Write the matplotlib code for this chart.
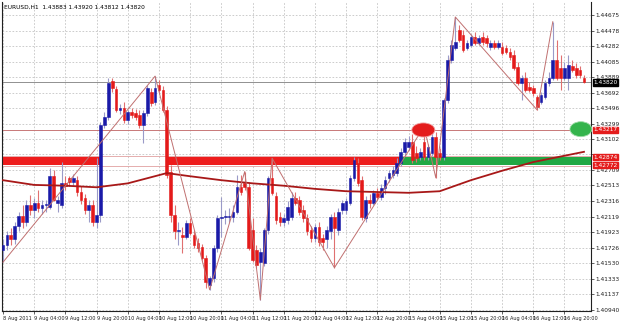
import matplotlib
matplotlib.use('Agg')
import matplotlib.pyplot as plt
import matplotlib.transforms as mtransforms
from matplotlib.patches import Ellipse, Rectangle

# EURUSD H1 candles, one value per bar
opens = [1.4170, 1.4176, 1.4188, 1.4183, 1.4200, 1.4212, 1.4205, 1.4227, 1.4220, 1.4229,
         1.4223, 1.4226, 1.4224, 1.4263, 1.4229, 1.4227, 1.4254, 1.4261, 1.4256, 1.4258,
         1.4243, 1.4236, 1.4220, 1.4227, 1.4205, 1.4214, 1.4328, 1.4338, 1.4384, 1.4374,
         1.4347, 1.4350, 1.4334, 1.4345, 1.4343, 1.4341, 1.4328, 1.4343, 1.4370, 1.4357,
         1.4379, 1.4372, 1.4347, 1.4269, 1.4214, 1.4193, 1.4189, 1.4186, 1.4204, 1.4189,
         1.4178, 1.4173, 1.4159, 1.4125, 1.4134, 1.4172, 1.4210, 1.4211, 1.4211, 1.4211,
         1.4218, 1.4249, 1.4254, 1.4249, 1.4195, 1.4170, 1.4154, 1.4153, 1.4195, 1.4261,
         1.4238, 1.4211, 1.4205, 1.4207, 1.4211, 1.4236, 1.4233, 1.4220, 1.4210, 1.4195,
         1.4185, 1.4199, 1.4185, 1.4183, 1.4193, 1.4211, 1.4195, 1.4220, 1.4220, 1.4229,
         1.4261, 1.4280, 1.4258, 1.4210, 1.4233, 1.4229, 1.4242, 1.4237, 1.4248, 1.4261,
         1.4265, 1.4267, 1.4280, 1.4294, 1.4300, 1.4306, 1.4292, 1.4287, 1.4306, 1.4287,
         1.4292, 1.4313, 1.4292, 1.4287, 1.4360, 1.4410, 1.4426, 1.4448, 1.4442, 1.4426,
         1.4429, 1.4440, 1.4432, 1.4440, 1.4438, 1.4427, 1.4432, 1.4427, 1.4427, 1.4426,
         1.4421, 1.4417, 1.4401, 1.4381, 1.4388, 1.4376, 1.4375, 1.4364, 1.4357, 1.4364,
         1.4381, 1.4388, 1.4410, 1.4400, 1.4388, 1.4388, 1.4403, 1.4400, 1.4398, 1.4388]
highs = [1.4183, 1.4193, 1.4198, 1.4205, 1.4218, 1.4227, 1.4233, 1.4239, 1.4236, 1.4246,
         1.4233, 1.4233, 1.4274, 1.4271, 1.4238, 1.4281, 1.4263, 1.4263, 1.4266, 1.4263,
         1.4251, 1.4241, 1.4233, 1.4233, 1.4286, 1.4332, 1.4345, 1.4388, 1.4387, 1.4377,
         1.4355, 1.4357, 1.4347, 1.4350, 1.4348, 1.4347, 1.4347, 1.4379, 1.4375, 1.4390,
         1.4385, 1.4377, 1.4352, 1.4277, 1.4227, 1.4205, 1.4199, 1.4207, 1.4210, 1.4195,
         1.4185, 1.4177, 1.4163, 1.4136, 1.4176, 1.4214, 1.4237, 1.4220, 1.4223, 1.4226,
         1.4265, 1.4265, 1.4269, 1.4254, 1.4210, 1.4176, 1.4172, 1.4198, 1.4263, 1.4286,
         1.4243, 1.4218, 1.4215, 1.4231, 1.4243, 1.4243, 1.4238, 1.4227, 1.4215, 1.4200,
         1.4202, 1.4205, 1.4190, 1.4200, 1.4215, 1.4218, 1.4223, 1.4233, 1.4236, 1.4265,
         1.4287, 1.4286, 1.4263, 1.4238, 1.4241, 1.4246, 1.4248, 1.4253, 1.4263, 1.4271,
         1.4276, 1.4286, 1.4299, 1.4312, 1.4314, 1.4316, 1.4301, 1.4299, 1.4326, 1.4304,
         1.4319, 1.4319, 1.4299, 1.4362, 1.4417, 1.4436, 1.4465, 1.4455, 1.4448, 1.4436,
         1.4443, 1.4446, 1.4442, 1.4446, 1.4442, 1.4436, 1.4436, 1.4436, 1.4433, 1.4429,
         1.4426, 1.4423, 1.4408, 1.4391, 1.4395, 1.4382, 1.4379, 1.4366, 1.4370, 1.4385,
         1.4395, 1.4459, 1.4436, 1.4417, 1.4408, 1.4417, 1.4410, 1.4407, 1.4403, 1.4392]
lows = [1.4154, 1.4170, 1.4176, 1.4177, 1.4193, 1.4198, 1.4200, 1.4214, 1.4210, 1.4218,
        1.4215, 1.4218, 1.4222, 1.4231, 1.4218, 1.4223, 1.4246, 1.4251, 1.4251, 1.4238,
        1.4228, 1.4215, 1.4205, 1.4200, 1.4198, 1.4205, 1.4324, 1.4334, 1.4370, 1.4345,
        1.4342, 1.4331, 1.4329, 1.4337, 1.4334, 1.4324, 1.4305, 1.4339, 1.4352, 1.4353,
        1.4370, 1.4345, 1.4261, 1.4205, 1.4183, 1.4176, 1.4166, 1.4183, 1.4188, 1.4172,
        1.4167, 1.4157, 1.4121, 1.4119, 1.4129, 1.4167, 1.4186, 1.4202, 1.4205, 1.4205,
        1.4215, 1.4239, 1.4246, 1.4170, 1.4154, 1.4147, 1.4106, 1.4149, 1.4190, 1.4239,
        1.4202, 1.4200, 1.4200, 1.4202, 1.4207, 1.4226, 1.4214, 1.4205, 1.4188, 1.4180,
        1.4180, 1.4175, 1.4170, 1.4172, 1.4183, 1.4147, 1.4188, 1.4215, 1.4215, 1.4226,
        1.4257, 1.4251, 1.4207, 1.4205, 1.4223, 1.4226, 1.4233, 1.4233, 1.4241, 1.4256,
        1.4261, 1.4263, 1.4276, 1.4289, 1.4296, 1.4280, 1.4281, 1.4284, 1.4284, 1.4284,
        1.4289, 1.4261, 1.4284, 1.4284, 1.4356, 1.4407, 1.4423, 1.4433, 1.4421, 1.4423,
        1.4427, 1.4429, 1.4429, 1.4429, 1.4427, 1.4423, 1.4424, 1.4424, 1.4417, 1.4418,
        1.4410, 1.4398, 1.4379, 1.4360, 1.4370, 1.4370, 1.4365, 1.4347, 1.4355, 1.4361,
        1.4377, 1.4385, 1.4385, 1.4372, 1.4385, 1.4372, 1.4395, 1.4388, 1.4388, 1.4381]
closes = [1.4176, 1.4188, 1.4183, 1.4200, 1.4212, 1.4205, 1.4227, 1.4220, 1.4229, 1.4223,
          1.4226, 1.4228, 1.4263, 1.4233, 1.4233, 1.4254, 1.4251, 1.4256, 1.4261, 1.4243,
          1.4233, 1.4220, 1.4227, 1.4205, 1.4214, 1.4328, 1.4338, 1.4381, 1.4375, 1.4347,
          1.4350, 1.4334, 1.4345, 1.4341, 1.4338, 1.4328, 1.4343, 1.4375, 1.4356, 1.4375,
          1.4372, 1.4347, 1.4265, 1.4214, 1.4193, 1.4195, 1.4186, 1.4204, 1.4191, 1.4176,
          1.4172, 1.4159, 1.4129, 1.4134, 1.4172, 1.4210, 1.4211, 1.4212, 1.4212, 1.4218,
          1.4249, 1.4243, 1.4249, 1.4172, 1.4157, 1.4151, 1.4167, 1.4195, 1.4261, 1.4242,
          1.4207, 1.4205, 1.4210, 1.4224, 1.4236, 1.4229, 1.4218, 1.4210, 1.4193, 1.4185,
          1.4199, 1.4180, 1.4180, 1.4195, 1.4211, 1.4198, 1.4218, 1.4229, 1.4231, 1.4261,
          1.4284, 1.4254, 1.4211, 1.4233, 1.4229, 1.4242, 1.4237, 1.4248, 1.4258, 1.4267,
          1.4271, 1.4280, 1.4294, 1.4306, 1.4306, 1.4284, 1.4286, 1.4294, 1.4287, 1.4300,
          1.4313, 1.4287, 1.4287, 1.4360, 1.4410, 1.4429, 1.4433, 1.4436, 1.4423, 1.4432,
          1.4440, 1.4432, 1.4438, 1.4433, 1.4432, 1.4432, 1.4427, 1.4432, 1.4419, 1.4421,
          1.4414, 1.4400, 1.4381, 1.4387, 1.4372, 1.4372, 1.4369, 1.4351, 1.4366, 1.4381,
          1.4388, 1.4410, 1.4388, 1.4388, 1.4400, 1.4404, 1.4398, 1.4391, 1.4391, 1.4382]

# moving average, sampled at some bars
ma_bars = [0, 8, 16, 24, 32, 42, 48, 56, 64, 72, 80, 88, 96, 104, 112, 120, 128, 136, 144, 149]
ma_vals = [1.4258, 1.4252, 1.4251, 1.4249, 1.4254, 1.4267, 1.4263, 1.4258, 1.4254, 1.4251,
           1.4247, 1.4244, 1.4243, 1.4242, 1.4244, 1.4258, 1.4270, 1.4281, 1.4289, 1.4294]

# hand drawn trend lines
trend_bars = [0, 39, 53, 62, 66, 69, 85, 108, 111, 116, 137, 141]
trend_vals = [1.4154, 1.4390, 1.4119, 1.4269, 1.4106, 1.4286, 1.4147, 1.4326, 1.4261,
              1.4465, 1.4347, 1.4459]

# levels
bid_price = 1.43820
line_level = 1.43217
zone_top, zone_bottom = 1.42874, 1.42772
header = "EURUSD,H1  1.43883 1.43920 1.43812 1.43820"

price_ticks = [1.44675, 1.44478, 1.44282, 1.44085, 1.43889, 1.43692, 1.43496, 1.43299,
               1.43102, 1.42906, 1.42709, 1.42513, 1.42316, 1.42119, 1.41923, 1.41726,
               1.41530, 1.41333, 1.41137, 1.40940]
time_labels = ['8 Aug 2011', '9 Aug 04:00', '9 Aug 12:00', '9 Aug 20:00', '10 Aug 04:00',
               '10 Aug 12:00', '10 Aug 20:00', '11 Aug 04:00', '11 Aug 12:00', '11 Aug 20:00',
               '12 Aug 04:00', '12 Aug 12:00', '12 Aug 20:00', '15 Aug 04:00', '15 Aug 12:00',
               '15 Aug 20:00', '16 Aug 04:00', '16 Aug 12:00', '16 Aug 20:00']

W, H = 625, 323
fig = plt.figure(figsize=(W / 100, H / 100), dpi=100)
fig.patch.set_facecolor('white')
ax = fig.add_axes([2 / W, 1 - 311 / H, 589 / W, 309 / H])
ax.set_facecolor('white')

n = len(closes)
ax.set_xlim(-0.26, 150.8)
ax.set_ylim(1.40921, 1.44840)

# grid
for t in price_ticks:
    ax.axhline(t, color='#c4c4c4', lw=0.6, ls=(0, (2, 2)), zorder=0)
for k in range(len(time_labels)):
    ax.axvline(8 * k, color='#c4c4c4', lw=0.6, ls=(0, (2, 2)), zorder=0)

# zone rectangles
ax.add_patch(Rectangle((-1, zone_bottom), 26, zone_top - zone_bottom, color='#ee1c1c', lw=0, zorder=1))
ax.add_patch(Rectangle((42, zone_bottom), 59.5, zone_top - zone_bottom, color='#ee1c1c', lw=0, zorder=1))
ax.add_patch(Rectangle((101.5, zone_bottom), 60, zone_top - zone_bottom, color='#22a844', lw=0, zorder=1))
for lv in (zone_top + 0.00012, zone_bottom - 0.00012):
    ax.axhline(lv, color='#e0a0a0', lw=0.6, zorder=1)

ax.axhline(line_level, color='#c87878', lw=0.7, zorder=1)
ax.axhline(bid_price, color='#909090', lw=0.7, zorder=1)

# candles
for i in range(n):
    o, h, l, c = opens[i], highs[i], lows[i], closes[i]
    up = c >= o
    body = '#1a1aa8' if up else '#e41a1a'
    wick = '#9a9ac8' if up else '#e07070'
    ax.vlines(i, l, h, color=wick, lw=0.8, zorder=3)
    ax.bar(i, c - o, bottom=o, width=0.68, color=body, edgecolor=body, lw=0.4, zorder=4)

# moving average
ax.plot(ma_bars, ma_vals, color='#a81818', lw=1.3, zorder=5)
# trend lines
ax.plot(trend_bars, trend_vals, color='#c07070', lw=0.7, zorder=5)

# ellipses
ax.add_patch(Ellipse((107.8, line_level), 5.9, 0.00178, facecolor='#e41c1c',
                     edgecolor='#f0a0a0', lw=0.6, zorder=6))
ax.add_patch(Ellipse((148.2, line_level + 0.0001), 5.6, 0.0019, facecolor='#34b44c',
                     edgecolor='#a0dca8', lw=0.6, zorder=6, clip_on=False))

# axes styling
for s in ax.spines.values():
    s.set_color('#202020')
    s.set_linewidth(0.8)
ax.spines['top'].set_visible(False)

# scale labels hidden behind the level boxes are left blank
box_levels = [line_level, zone_top, zone_bottom]
ylabels = []
for t in price_ticks:
    hidden = any(abs(t - b) < 0.0004 for b in box_levels)
    ylabels.append('' if hidden else f'{t:.5f}')

ax.yaxis.tick_right()
ax.set_yticks(price_ticks)
ax.set_yticklabels(ylabels)
ax.set_xticks([8 * k for k in range(len(time_labels))])
ax.set_xticklabels(time_labels)
ax.tick_params(axis='y', labelsize=4.2, length=2, width=0.5, colors='#202020', pad=1.5)
ax.tick_params(axis='x', labelsize=3.6, length=2, width=0.5, colors='#202020', pad=1.5)
for lbl in ax.get_xticklabels():
    lbl.set_ha('left')

# price boxes on the scale
trans = mtransforms.blended_transform_factory(ax.transAxes, ax.transData)
ax.text(1.004, bid_price, f'{bid_price:.5f}', transform=trans, fontsize=4.2, color='white',
        va='center', ha='left', bbox=dict(boxstyle='square,pad=0.12', fc='black', ec='black'))
for lv in box_levels:
    ax.text(1.004, lv, f'{lv:.5f}', transform=trans, fontsize=4.2, color='white',
            va='center', ha='left', bbox=dict(boxstyle='square,pad=0.12', fc='#e41c1c', ec='#e41c1c'))

ax.text(0.004, 0.992, header, transform=ax.transAxes, fontsize=4.2, va='top', ha='left',
        color='black')

fig.savefig('out.png', dpi=100, facecolor='white')
